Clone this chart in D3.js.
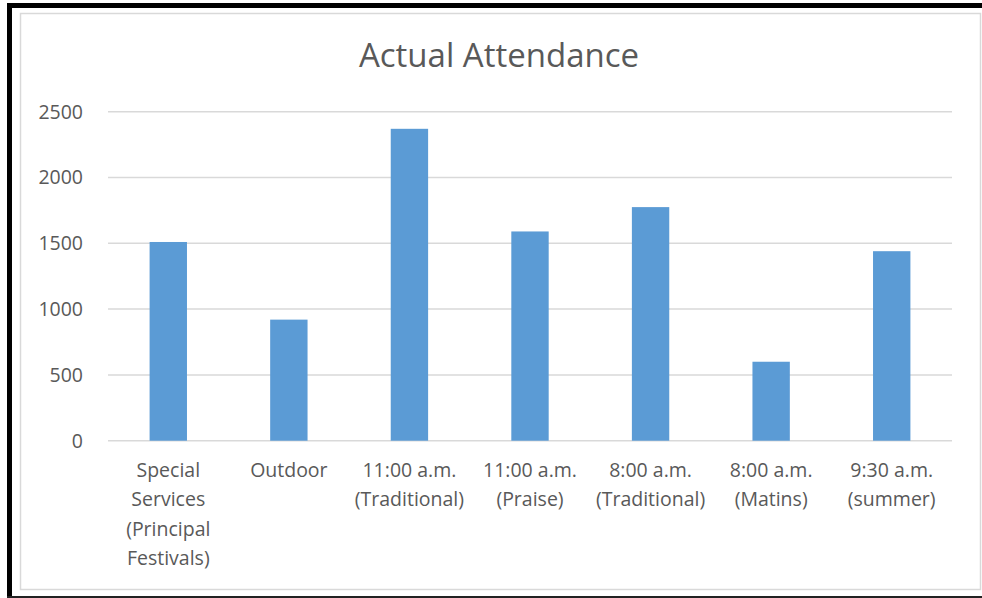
<!DOCTYPE html>
<html lang="en">
<head>
  <meta charset="UTF-8">
  <title>Actual Attendance</title>
  <script src="https://d3js.org/d3.v7.min.js"></script>
  <style>
    body { margin: 0; background: #fff; }
    svg { display: block; }
    text { font-family: "Open Sans", sans-serif; fill: #595959; }
  </style>
</head>
<body>
  <svg id="chart" width="982" height="598"></svg>
  <script>
    // Chart data
    const categories = [
      ["Special", "Services", "(Principal", "Festivals)"],
      ["Outdoor"],
      ["11:00 a.m.", "(Traditional)"],
      ["11:00 a.m.", "(Praise)"],
      ["8:00 a.m.", "(Traditional)"],
      ["8:00 a.m.", "(Matins)"],
      ["9:30 a.m.", "(summer)"]
    ];
    const attendance = [1510, 920, 2370, 1590, 1775, 600, 1440];
    const yTicks = [0, 500, 1000, 1500, 2000, 2500];

    const svg = d3.select("#chart");

    // frame: black screenshot border + light chart-area border
    svg.append("rect").attr("x", 7).attr("y", 3).attr("width", 980).attr("height", 5).attr("fill", "#000");
    svg.append("rect").attr("x", 7).attr("y", 3).attr("width", 5).attr("height", 595).attr("fill", "#000");
    svg.append("rect").attr("x", 7).attr("y", 596).attr("width", 980).attr("height", 2).attr("fill", "#222");
    svg.append("rect")
       .attr("x", 20.5).attr("y", 13.5).attr("width", 960).attr("height", 576)
       .attr("fill", "none").attr("stroke", "#d9d9d9").attr("stroke-width", 1.5);

    const plotLeft = 108, plotRight = 952, plotTop = 111.7, plotBottom = 440.7;

    const x = d3.scaleBand()
      .domain(d3.range(categories.length))
      .range([plotLeft, plotRight])
      .paddingInner(0.69)
      .paddingOuter(0.345);

    const y = d3.scaleLinear().domain([0, 2500]).range([plotBottom, plotTop]);

    // gridlines
    svg.append("g")
      .selectAll("line")
      .data(yTicks)
      .join("line")
      .attr("x1", plotLeft).attr("x2", plotRight)
      .attr("y1", d => y(d)).attr("y2", d => y(d))
      .attr("stroke", "#d9d9d9").attr("stroke-width", 1.5);

    // y labels
    svg.append("g")
      .selectAll("text")
      .data(yTicks)
      .join("text")
      .attr("x", 83).attr("y", d => y(d))
      .attr("dy", "0.35em")
      .attr("text-anchor", "end")
      .style("font-size", "19.5px")
      .text(d => d);

    // bars
    svg.append("g")
      .selectAll("rect")
      .data(attendance)
      .join("rect")
      .attr("x", (d, i) => x(i))
      .attr("width", x.bandwidth())
      .attr("y", d => y(d))
      .attr("height", d => y(0) - y(d))
      .attr("fill", "#5b9bd5");

    // category labels
    const catG = svg.append("g")
      .selectAll("text")
      .data(categories)
      .join("text")
      .attr("text-anchor", "middle")
      .style("font-size", "19.5px");
    catG.selectAll("tspan")
      .data((d, i) => d.map(line => ({ line, i })))
      .join("tspan")
      .attr("x", d => x(d.i) + x.bandwidth() / 2)
      .attr("y", (d, j) => 477 + j * 29.3)
      .text(d => d.line);

    // title
    svg.append("text")
      .attr("x", 499).attr("y", 67)
      .attr("text-anchor", "middle")
      .style("font-size", "33px")
      .text("Actual Attendance");
  </script>
</body>
</html>
